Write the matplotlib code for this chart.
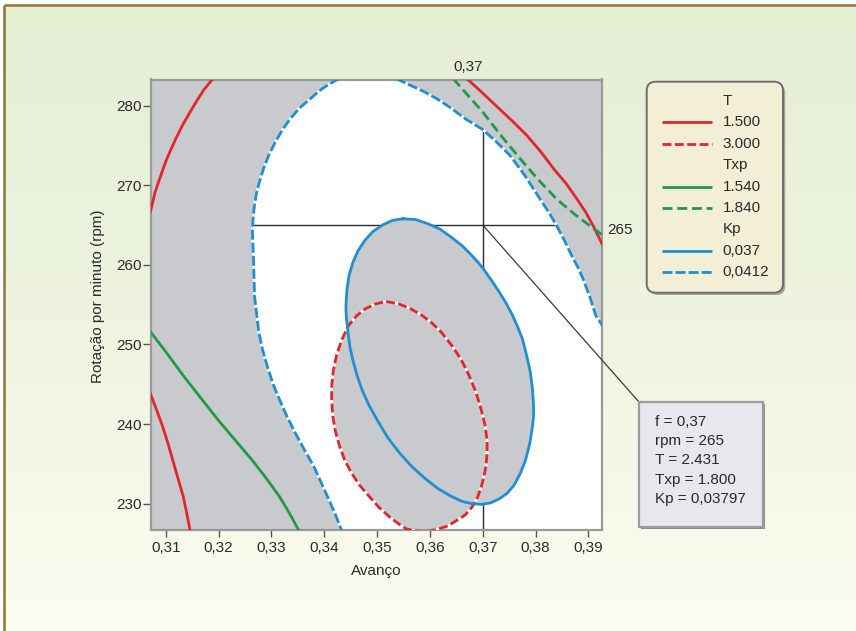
import matplotlib
matplotlib.use("Agg")
import numpy as np
import matplotlib.pyplot as plt
from matplotlib.patches import Polygon, Rectangle, FancyBboxPatch, ConnectionPatch
from matplotlib.colors import LinearSegmentedColormap

plt.rcParams["font.family"] = ["Liberation Sans", "DejaVu Sans"]

W, H = 856, 631

# axis ranges and ticks
f_lim = (0.3072, 0.3925)
rpm_lim = (226.75, 283.3)
f_ticks = [0.31, 0.32, 0.33, 0.34, 0.35, 0.36, 0.37, 0.38, 0.39]
f_labels = ["0,31", "0,32", "0,33", "0,34", "0,35", "0,36", "0,37", "0,38", "0,39"]
rpm_ticks = [230, 240, 250, 260, 270, 280]

# crosshair point and its readout
f_hold = 0.37
rpm_hold = 265
hold_text = ["f = 0,37", "rpm = 265", "T = 2.431", "Txp = 1.800", "Kp = 0,03797"]

# T = 1.500 (three pieces)
t15_a_f = [0.3189, 0.3172, 0.3158, 0.3145, 0.3132, 0.3120, 0.3109, 0.3100, 0.3093, 0.3080, 0.3071]
t15_a_rpm = [283.4, 282.0, 280.55, 279.1, 277.6, 276.0, 274.4, 273.0, 271.7, 269.2, 266.7]
t15_b_f = [0.3071, 0.3083, 0.3094, 0.3104, 0.3113, 0.3123, 0.3133, 0.3140, 0.3146]
t15_b_rpm = [243.8, 241.7, 239.7, 237.6, 235.5, 233.2, 230.9, 228.7, 226.6]
t15_c_f = [0.3670, 0.3698, 0.3725, 0.3754, 0.3783, 0.3810, 0.3835, 0.3858, 0.3878, 0.3895, 0.3909, 0.3926]
t15_c_rpm = [283.4, 281.7, 280.0, 278.2, 276.3, 274.2, 272.0, 270.2, 268.3, 266.6, 264.9, 262.6]

# T = 3.000 (closed)
t30_f = [0.3517, 0.3541, 0.3563, 0.3584, 0.3602, 0.3622, 0.3641, 0.3659, 0.3674, 0.3687,
         0.3697, 0.3704, 0.3708, 0.3708, 0.3706, 0.3702, 0.3697, 0.3690, 0.3680, 0.3667,
         0.3651, 0.3634, 0.3615, 0.3589, 0.3556, 0.3540, 0.3524, 0.3504, 0.3485, 0.3467,
         0.3452, 0.3439, 0.3429, 0.3421, 0.3416, 0.3414, 0.3414, 0.3417, 0.3423, 0.3433,
         0.3446, 0.3461, 0.3478, 0.3497, 0.3517]
t30_rpm = [255.4, 255.1, 254.5, 253.7, 252.8, 251.5, 249.9, 248.1, 246.1, 244.0,
           241.8, 239.9, 238.0, 236.3, 234.7, 233.4, 232.1, 230.8, 229.6, 228.6,
           227.9, 227.2, 226.8, 226.4, 226.8, 227.5, 228.3, 229.5, 230.9, 232.3,
           233.8, 235.4, 237.2, 239.1, 241.0, 242.9, 244.8, 246.7, 248.6, 250.6,
           252.4, 253.6, 254.5, 255.1, 255.4]

# Txp = 1.540 and 1.840
txp154_f = [0.3071, 0.3102, 0.3133, 0.3166, 0.3198, 0.3231, 0.3263, 0.3290, 0.3315, 0.3334, 0.3352]
txp154_rpm = [251.6, 248.9, 246.1, 243.3, 240.6, 238.0, 235.5, 233.2, 230.9, 228.8, 226.6]
txp184_f = [0.3644, 0.3672, 0.3700, 0.3735, 0.3770, 0.3805, 0.3840, 0.3875, 0.3909, 0.3926]
txp184_rpm = [283.4, 281.3, 279.2, 276.2, 273.4, 270.7, 268.25, 266.3, 264.6, 263.8]

# Kp = 0,037 (closed)
kp037_f = [0.3549, 0.3573, 0.3595, 0.3619, 0.3640, 0.3661, 0.3679, 0.3690, 0.3700, 0.3716,
           0.3731, 0.3744, 0.3756, 0.3766, 0.3775, 0.3783, 0.3790, 0.3794, 0.3796, 0.3796,
           0.3794, 0.3789, 0.3781, 0.3771, 0.3759, 0.3746, 0.3731, 0.3715, 0.3697, 0.3679,
           0.3660, 0.3638, 0.3615, 0.3590, 0.3565, 0.3542, 0.3520, 0.3502, 0.3485, 0.3472,
           0.3462, 0.3455, 0.3449, 0.3445, 0.3442, 0.3441, 0.3441, 0.3443, 0.3447, 0.3454,
           0.3464, 0.3477, 0.3492, 0.3510, 0.3529, 0.3549]
kp037_rpm = [265.8, 265.7, 265.2, 264.5, 263.5, 262.4, 261.2, 260.4, 259.6, 258.1,
             256.6, 255.2, 253.7, 252.2, 250.7, 248.6, 246.5, 244.4, 242.3, 241.0,
             239.7, 237.6, 235.5, 233.8, 232.3, 231.3, 230.6, 230.1, 229.9, 230.0,
             230.3, 231.0, 231.9, 233.2, 234.7, 236.4, 238.3, 240.3, 242.3, 244.2,
             246.1, 247.8, 249.5, 251.4, 253.3, 254.2, 255.0, 257.0, 258.7, 260.3,
             261.8, 263.1, 264.2, 265.0, 265.6, 265.8]

# Kp = 0,0412 (left and right branch)
kp0412_l_f = [0.3428, 0.3411, 0.3393, 0.3372, 0.3353, 0.3336, 0.3321, 0.3307, 0.3295, 0.3285,
              0.3277, 0.3271, 0.3267, 0.3265, 0.3264, 0.3265, 0.3266, 0.3267, 0.3268, 0.3272,
              0.3276, 0.3283, 0.3292, 0.3302, 0.3315, 0.3329, 0.3345, 0.3362, 0.3380, 0.3393,
              0.3406, 0.3420, 0.3433]
kp0412_l_rpm = [283.4, 282.8, 282.0, 280.8, 279.7, 278.4, 277.0, 275.4, 273.8, 272.1,
                270.4, 268.8, 267.1, 265.6, 264.1, 262.4, 260.8, 258.4, 256.0, 253.8,
                251.6, 249.4, 247.3, 245.2, 243.1, 241.0, 238.9, 236.8, 234.7, 232.8,
                230.9, 228.8, 226.6]
kp0412_r_f = [0.3536, 0.3562, 0.3588, 0.3615, 0.3640, 0.3666, 0.3700, 0.3725, 0.3751, 0.3780,
              0.3808, 0.3825, 0.3840, 0.3855, 0.3868, 0.3880, 0.3890, 0.3903, 0.3914, 0.3926]
kp0412_r_rpm = [283.4, 282.6, 281.8, 280.8, 279.7, 278.4, 277.0, 275.5, 273.8, 271.2,
                268.3, 266.6, 264.9, 263.0, 261.2, 259.7, 258.2, 255.9, 253.6, 252.4]

RED = "#e3252c"
GREEN = "#20994a"
BLUE = "#1f8fd2"
GRAY = "#c9cacd"
TXT = "#2a2a2a"

fig = plt.figure(figsize=(W / 100, H / 100), dpi=100)
fig.patch.set_facecolor("white")

# page background gradient
bg = fig.add_axes([5 / W, 0, 1 - 5 / W, 1 - 6 / H], zorder=-2)
cmap = LinearSegmentedColormap.from_list("page", ["#e5efd4", "#eef4df", "#fcfcf1"])
bg.imshow(np.linspace(0, 1, 256).reshape(-1, 1), aspect="auto", cmap=cmap,
          extent=[0, 1, 0, 1])
bg.axis("off")

ax = fig.add_axes([151 / W, 1 - 529.5 / H, 450.7 / W, 450 / H])
ax.set_facecolor(GRAY)
ax.set_xlim(*f_lim)
ax.set_ylim(*rpm_lim)

# white feasible region inside Kp = 0,0412
wx = (kp0412_l_f + [kp0412_l_f[-1], f_lim[1] + 0.01, f_lim[1] + 0.01]
      + kp0412_r_f[::-1] + [kp0412_r_f[0], kp0412_l_f[0]])
wy = (kp0412_l_rpm + [rpm_lim[0] - 5, rpm_lim[0] - 5, kp0412_r_rpm[-1]]
      + kp0412_r_rpm[::-1] + [rpm_lim[1] + 5, rpm_lim[1] + 5])
white = Polygon(np.column_stack([wx, wy]), closed=True, fc="white", ec="none", zorder=1)
ax.add_patch(white)

# crosshair, only visible in the white region
hl = ax.axhline(rpm_hold, color="#2b2b2b", lw=1, zorder=1.5)
vl = ax.axvline(f_hold, color="#2b2b2b", lw=1, zorder=1.5)
hl.set_clip_path(white)
vl.set_clip_path(white)

# gray infeasible ellipses
ax.add_patch(Polygon(np.column_stack([t30_f, t30_rpm]), closed=True, fc=GRAY, ec="none", zorder=2))
ax.add_patch(Polygon(np.column_stack([kp037_f, kp037_rpm]), closed=True, fc=GRAY, ec="none", zorder=2))

lw = 2.0
dash_blue = (3.6, 1.1)
dash_red = (3.2, 1.25)
dash_green = (3.6, 1.7)
kw = dict(lw=lw, zorder=3, solid_joinstyle="round", dash_joinstyle="round")

for fx, ry in [(t15_a_f, t15_a_rpm), (t15_b_f, t15_b_rpm), (t15_c_f, t15_c_rpm)]:
    ax.plot(fx, ry, color=RED, **kw)
ax.plot(txp154_f, txp154_rpm, color=GREEN, **kw)
ax.plot(txp184_f, txp184_rpm, color=GREEN, dashes=dash_green, **kw)
ax.plot(t30_f, t30_rpm, color=RED, dashes=dash_red, gapcolor="white", **kw)
ax.plot(kp037_f, kp037_rpm, color=BLUE, **kw)
ax.plot(kp0412_l_f, kp0412_l_rpm, color=BLUE, dashes=dash_blue, gapcolor="white", **kw)
ax.plot(kp0412_r_f, kp0412_r_rpm, color=BLUE, dashes=dash_blue, gapcolor="white", **kw)

ax.set_xticks(f_ticks)
ax.set_xticklabels(f_labels)
ax.set_yticks(rpm_ticks)
ax.tick_params(axis="x", length=4.7, width=1, color="#555555", pad=3.5,
               labelsize=11, labelcolor=TXT)
ax.tick_params(axis="y", length=5.5, width=1, color="#555555", pad=1.2,
               labelsize=11, labelcolor=TXT)
for s in ax.spines.values():
    s.set_color("#9a9a9a")
    s.set_linewidth(1.6)

ax.set_xlabel("Avanço", fontsize=11, color=TXT)
ax.xaxis.set_label_coords(0.5, -0.077)
ax.set_ylabel("Rotação por minuto (rpm)", fontsize=11, color=TXT)
ax.yaxis.set_label_coords(-0.102, 0.519)

ax.text(f_hold, 1.0196, "0,37", transform=ax.get_xaxis_transform(), ha="right",
        va="baseline", fontsize=11, color=TXT)
ax.text(1.013, rpm_hold + 0.3, "265", transform=ax.get_yaxis_transform(), ha="left",
        va="top", fontsize=11, color=TXT)

# overlay in pixel coordinates for legend, readout box and page border
ov = fig.add_axes([0, 0, 1, 1], zorder=5)
ov.set_xlim(0, W)
ov.set_ylim(H, 0)
ov.axis("off")

ov.plot([4.5, 4.5], [5, H], color="#937b40", lw=1.9, solid_capstyle="butt")
ov.plot([4.5, W], [5, 5], color="#937b40", lw=1.9, solid_capstyle="butt")

# leader line from crosshair to readout box
con = ConnectionPatch(xyA=(f_hold, rpm_hold), coordsA=ax.transData,
                      xyB=(639, 402), coordsB=ov.transData,
                      color="#3a3a3a", lw=0.9, zorder=1)
ov.add_artist(con)

# readout box
ov.add_patch(Rectangle((641, 404), 124, 125, fc="#8e8e8e", ec="none", zorder=2))
ov.add_patch(Rectangle((639, 402), 124, 125, fc="#e6e8ee", ec="#9c9c9c", lw=1.6, zorder=3))
for i, s in enumerate(hold_text):
    ov.text(655, 421.5 + 19.5 * i, s, fontsize=11, color=TXT, va="center", ha="left", zorder=4)

# legend
legend_items = [("T", None, None), ("1.500", RED, None), ("3.000", RED, dash_red),
                ("Txp", None, None), ("1.540", GREEN, None), ("1.840", GREEN, dash_green),
                ("Kp", None, None), ("0,037", BLUE, None), ("0,0412", BLUE, dash_blue)]
ov.add_patch(FancyBboxPatch((649, 84), 136.3, 211, boxstyle="round,pad=0,rounding_size=9",
                            fc="#a9a89c", ec="none", zorder=2))
ov.add_patch(FancyBboxPatch((646.7, 81.7), 136.3, 211, boxstyle="round,pad=0,rounding_size=9",
                            fc="#f3eed6", ec="#6e6e6e", lw=1.4, zorder=3))
for i, (lab, col, dsh) in enumerate(legend_items):
    y = 101 + 21.4 * i
    ov.text(722.7, y, lab, fontsize=11, color=TXT, va="center", ha="left", zorder=4)
    if col is not None:
        if dsh is None:
            ov.plot([661.7, 711.7], [y, y], color=col, lw=lw, zorder=4, solid_capstyle="butt")
        else:
            ov.plot([661.7, 711.7], [y, y], color=col, lw=lw, zorder=4, dashes=dsh)

fig.savefig("out.png", dpi=100)
